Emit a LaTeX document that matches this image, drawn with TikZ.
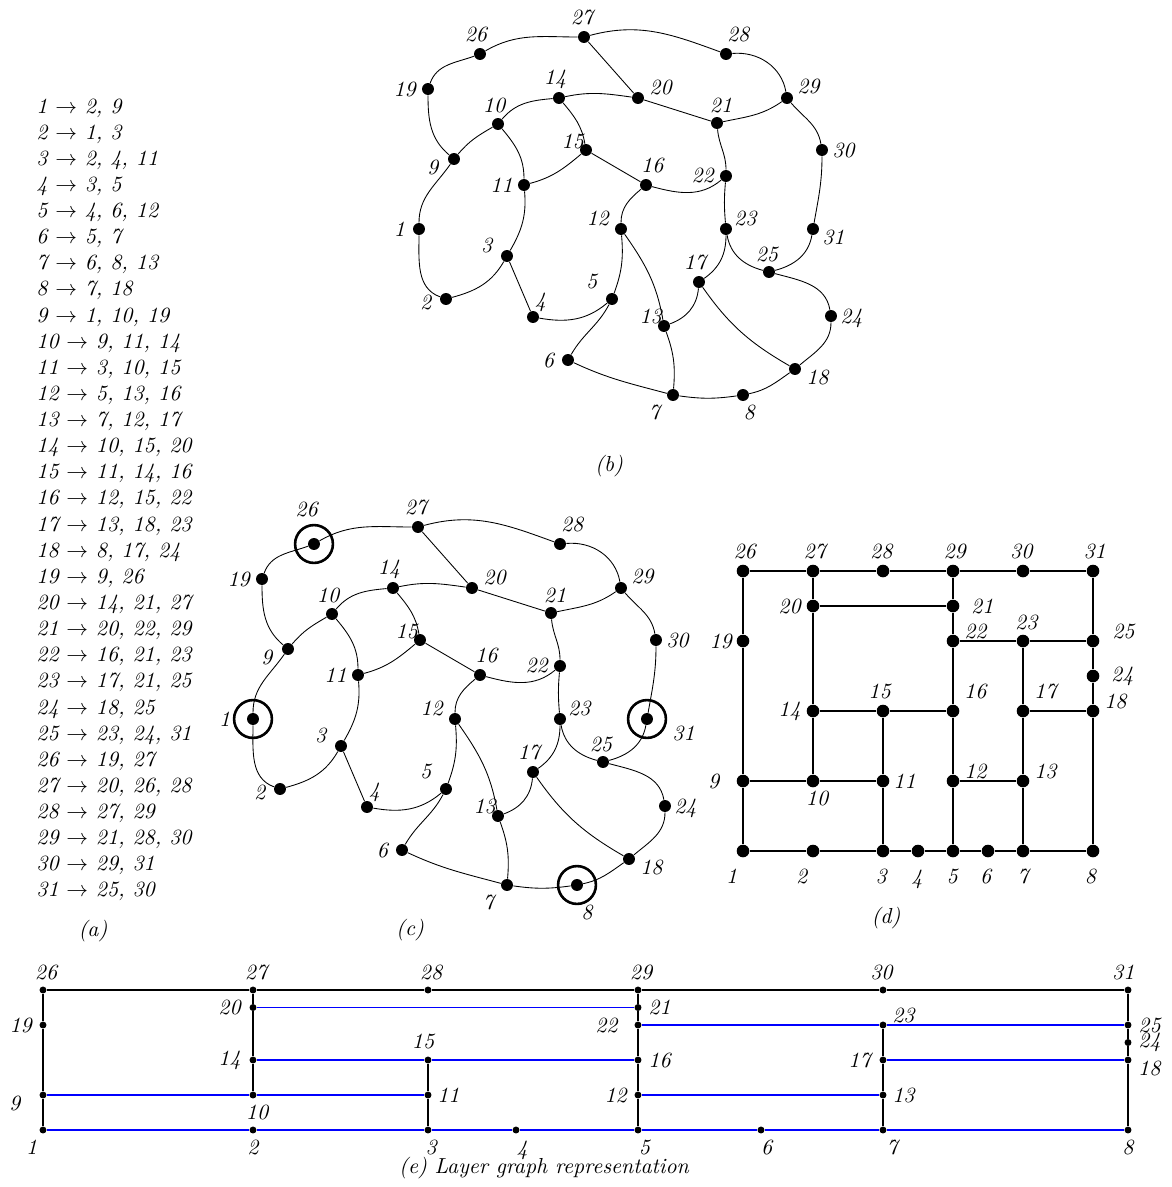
\documentclass[tikz,border=0pt]{standalone}
\usepackage{tikz}
\usepackage{amsmath}
\usepackage{amssymb}
\usepackage{xcolor}

\tikzset{
  vtx/.style={circle,fill,inner sep=0pt,minimum size=5.5pt},
  gvtx/.style={circle,fill,inner sep=0pt,minimum size=5.8pt},
  lvtx/.style={circle,fill,inner sep=0pt,minimum size=3.2pt},
  lbl/.style={font=\itshape,anchor=center,inner sep=0.5pt},
  captxt/.style={font=\itshape,inner sep=0.5pt},
  ring/.style={line width=1.2pt},
  gedge/.style={line width=1.2pt},
  ledge/.style={line width=0.8pt},
  bedge/.style={line width=0.8pt,color=blue},
  cring1/.style={label position=180,label distance=10.1pt},
  cring26/.style={label position=98,label distance=13.5pt},
  cring31/.style={label position=-13,label distance=15.2pt},
  cring8/.style={label position=-61,label distance=10.4pt}
}

\newcommand{\curvygraph}[1]{%
  \foreach \n/\x/\y/\a/\d in {1/419/229/180/6.0, 2/446/299/191/6.6, 3/507/256/153/7.5,
      4/533/317/63/4.5, 5/612/299/140/9.3, 6/568/360/180/6.0, 7/673/395/223/8.7,
      8/743/395/-70/5.5, 9/454/159/201/7.6, 10/498/124/102/5.7, 11/524/185/180/7.4,
      12/621/229/156/8.8, 13/664/326/145/4.5, 14/559/98/102/5.7, 15/586/150/148/4.3,
      16/646/185/72/6.4, 17/699/282/102/6.2, 18/795/369/-20/8.0, 19/428/89/180/7.8,
      20/638/98/24/8.4, 21/717/123/77/5.3, 22/726/176/178/7.8, 23/726/229/28/7.1,
      24/831/316/-6/6.5, 25/769/272/97/5.1, 26/480/54/102/6.2, 27/584/37/96/6.0,
      28/726/54/58/7.6, 29/787/98/28/8.2, 30/822/150/0/6.9, 31/813/229/-22/7.2}
    \node[vtx,label={[lbl,label distance=\d pt,#1ring\n/.try]\a:\n}] (#1\n) at (\x,-\y) {};
  \foreach \s/\t/\o/\i in {1/2/-90/160, 1/9/90/-125, 2/3/15/-120, 3/11/60/-85,
      4/5/-10/-140, 5/6/-118/60, 5/12/70/-85, 6/7/-25/165, 7/8/-8/-172, 7/13/85/-70,
      8/18/12/-145, 9/10/50/-150, 9/19/140/-90, 10/11/-50/90, 10/14/50/-175,
      11/15/15/-140, 12/13/-55/100, 12/16/90/-140, 13/17/20/-95, 14/15/-50/100,
      14/20/12/172, 16/22/-15/-140, 17/18/-55/150, 17/23/35/-90, 18/24/40/-90,
      19/26/70/-160, 21/22/-85/90, 21/29/12/-145, 22/23/-95/95, 23/25/-80/165,
      24/25/100/-15, 25/31/15/-100, 26/27/30/180, 27/28/15/160, 28/29/5/100,
      29/30/-50/100, 30/31/-90/80}
    \draw (#1\s) to[out=\o,in=\i] (#1\t);
  \foreach \s/\t in {3/4, 15/16, 20/21, 20/27}
    \draw (#1\s) -- (#1\t);
}

\begin{document}
\begin{tikzpicture}[x=0.46pt,y=0.46pt]
\useasboundingbox (0,0) rectangle (1172,-1187);

% (a) adjacency list
\foreach \nb [count=\k] in {{2, 9},{1, 3},{2, 4, 11},{3, 5},{4, 6, 12},{5, 7},{6, 8, 13},
    {7, 18},{1, 10, 19},{9, 11, 14},{3, 10, 15},{5, 13, 16},{7, 12, 17},{10, 15, 20},
    {11, 14, 16},{12, 15, 22},{13, 18, 23},{8, 17, 24},{9, 26},{14, 21, 27},{20, 22, 29},
    {16, 21, 23},{17, 21, 25},{18, 25},{23, 24, 31},{19, 27},{20, 26, 28},{27, 29},
    {21, 28, 30},{29, 31},{25, 30}}
  \node[font=\itshape,inner sep=0pt,anchor=base west] (row\k) at (36,-113-26.13*\k+26.13) {\k\ $\rightarrow$ \nb};
\node[captxt] (capa) at (93,-931) {(a)};

% (b) and (c)
\curvygraph{b}
\node[captxt] (capb) at (609,-466) {(b)};

\begin{scope}[shift={(-166,-490)}]
\curvygraph{c}
\foreach \n in {1,26,31,8}
  \draw[ring] (c\n) circle (8.7pt);
\end{scope}
\node[captxt] (capc) at (410,-930) {(c)};

% (d)
\foreach \n/\c/\r/\a/\d in {1/0/8/246/9.7, 2/2/8/246/9.7, 3/4/8/-94/8.6, 4/5/8/-92/10.0,
    5/6/8/-92/8.6, 6/7/8/-95/8.6, 7/8/8/-90/8.6, 8/10/8/-96/8.7, 9/0/6/180/10.4,
    10/2/6/-77/5.1, 11/4/6/0/6.8, 12/6/6/22/8.0, 13/8/6/22/8.0, 14/2/4/180/7.7,
    15/4/4/100/6.1, 16/6/4/41/10.5, 17/8/4/41/10.5, 18/10/4/24/8.2, 19/0/2/180/7.2,
    20/2/1/180/7.7, 21/6/1/0/10.4, 22/6/2/24/8.2, 23/8/2/80/5.6, 24/10/3/0/10.4,
    25/10/2/18/11.6, 26/0/0/85/6.0, 27/2/0/85/6.0, 28/4/0/95/6.0, 29/6/0/85/6.0,
    30/8/0/95/6.0, 31/10/0/85/6.0}
  \node[gvtx,label={[lbl,label distance=\d pt]\a:\n}] (d\n) at (743+35*\c,-571-35*\r) {};
\draw[gedge] (d26) -- (d27) -- (d28) -- (d29) -- (d30) -- (d31);
\draw[gedge] (d1) -- (d2) -- (d3) -- (d4) -- (d5) -- (d6) -- (d7) -- (d8);
\draw[gedge] (d26) -- (d19) -- (d9) -- (d1);
\draw[gedge] (d27) -- (d20) -- (d14) -- (d10);
\draw[gedge] (d15) -- (d11) -- (d3);
\draw[gedge] (d29) -- (d21) -- (d22) -- (d16) -- (d12) -- (d5);
\draw[gedge] (d23) -- (d17) -- (d13) -- (d7);
\draw[gedge] (d31) -- (d25) -- (d24) -- (d18) -- (d8);
\draw[gedge] (d20) -- (d21);
\draw[gedge] (d22) -- (d23) -- (d25);
\draw[gedge] (d14) -- (d15) -- (d16);
\draw[gedge] (d17) -- (d18);
\draw[gedge] (d9) -- (d10) -- (d11);
\draw[gedge] (d12) -- (d13);
\node[captxt] (capd) at (886,-918) {(d)};

% (e) layer graph
\foreach \n/\x/\r/\a/\d in {1/43/8/237/7.7, 2/253/8/-90/6.2, 3/428/8/-80/6.5,
    4/516/8/-73/8.0, 5/638/8/-70/6.8, 6/761/8/-72/6.7, 7/883/8/-62/7.2, 8/1128/8/-90/6.2,
    9/43/6/196/11.8, 10/253/6/-77/6.4, 11/428/6/0/7.6, 12/638/6/180/8.5, 13/883/6/0/7.6,
    14/253/4/180/9.0, 15/428/4/105/7.0, 16/638/4/0/8.1, 17/883/4/180/9.0,
    18/1128/4/-21/8.7, 19/43/2/180/8.5, 20/253/1/180/9.0, 21/638/1/0/8.1,
    22/638/2/180/12.7, 23/883/2/24/8.5, 24/1128/3/0/8.1, 25/1128/2/0/8.1,
    26/43/0/80/6.3, 27/253/0/80/6.3, 28/428/0/80/6.3, 29/638/0/80/6.3,
    30/883/0/95/6.2, 31/1128/0/105/6.5}
  \node[lvtx,label={[lbl,label distance=\d pt]\a:\n}] (e\n) at (\x,-990-17.5*\r) {};
\draw[ledge] (e26) -- (e27) -- (e28) -- (e29) -- (e30) -- (e31);
\draw[ledge] (e26) -- (e19) -- (e9) -- (e1);
\draw[ledge] (e27) -- (e20) -- (e14) -- (e10);
\draw[ledge] (e15) -- (e11) -- (e3);
\draw[ledge] (e29) -- (e21) -- (e22) -- (e16) -- (e12) -- (e5);
\draw[ledge] (e23) -- (e17) -- (e13) -- (e7);
\draw[ledge] (e31) -- (e25) -- (e24) -- (e18) -- (e8);
\draw[bedge] (e1) -- (e2) -- (e3) -- (e4) -- (e5) -- (e6) -- (e7) -- (e8);
\draw[bedge] (e20) -- (e21);
\draw[bedge] (e14) -- (e15) -- (e16);
\draw[bedge] (e9) -- (e10) -- (e11);
\draw[bedge] (e22) -- (e23) -- (e25);
\draw[bedge] (e17) -- (e18);
\draw[bedge] (e12) -- (e13);
\node[captxt] (cape) at (544,-1168) {(e) Layer graph representation};
\end{tikzpicture}
\end{document}
